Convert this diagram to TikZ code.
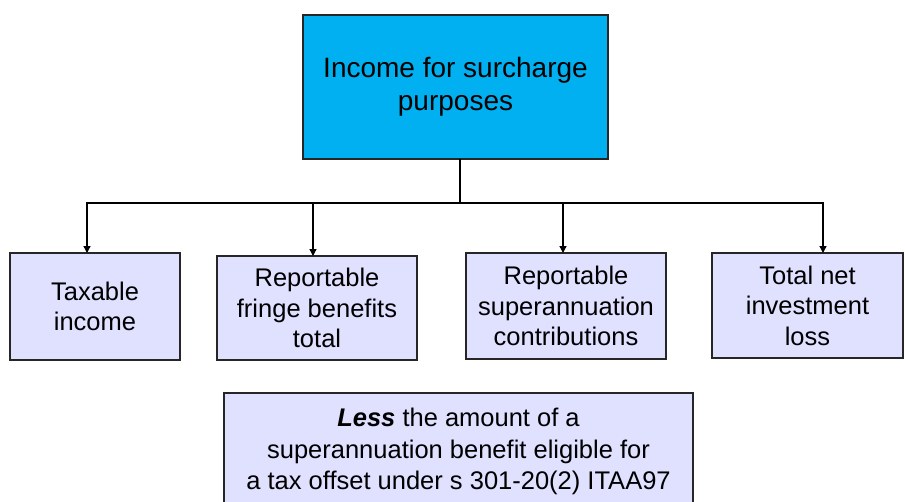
\documentclass[tikz,border=0pt]{standalone}
\usepackage{fontspec}
\setmainfont{Liberation Sans}
\usetikzlibrary{
    arrows.meta,
    positioning
}
\definecolor{headblue}{HTML}{00B0F0}
\definecolor{itemlilac}{HTML}{E0E0FF}

\begin{document}
\begin{tikzpicture}[x=1pt,y=-1pt,
    box/.style={draw=black!85,line width=1.3pt,fill=itemlilac,align=center,
        inner sep=0pt,outer sep=0pt,font=\fontsize{25.5}{30.5}\selectfont},
    link/.style={line width=1.3pt,-{Triangle[length=7pt,width=7pt]}}]
    \useasboundingbox (0,0) rectangle (905,501);

    \node[box,fill=headblue,minimum width=305,minimum height=144,
        font=\fontsize{28}{33}\selectfont] (income) at (455.5,87) {Income for surcharge\\purposes};

    \node[box,minimum width=170,minimum height=107] (taxable) at (95,306.5) {Taxable\\income};
    \node[box,minimum width=200,minimum height=104] (fringe) at (317,308) {Reportable\\fringe benefits\\total};
    \node[box,minimum width=200,minimum height=106] (super) at (566,306) {Reportable\\superannuation\\contributions};
    \node[box,minimum width=191,minimum height=105] (netloss) at (807.5,305.5) {Total net\\investment\\loss};

    \node[box,minimum width=469,minimum height=117,font=\fontsize{25.5}{31.5}\selectfont] (less) at (458.5,451.5)
        {\textbf{\textit{Less}} the amount of a\\superannuation benefit eligible for\\a tax offset under s 301-20(2) ITAA97};

    % bus line under the head box
    \coordinate (bus) at (460,203);
    \draw[line width=1.3pt] (income.south -| bus) -- (bus);
    \draw[link] (bus) -| ([xshift=-8pt]taxable.north);
    \draw[link] (bus) -| ([xshift=-4pt]fringe.north);
    \draw[link] (bus) -| ([xshift=-3pt]super.north);
    \draw[link] (bus) -| ([xshift=15.5pt]netloss.north);
\end{tikzpicture}
\end{document}
